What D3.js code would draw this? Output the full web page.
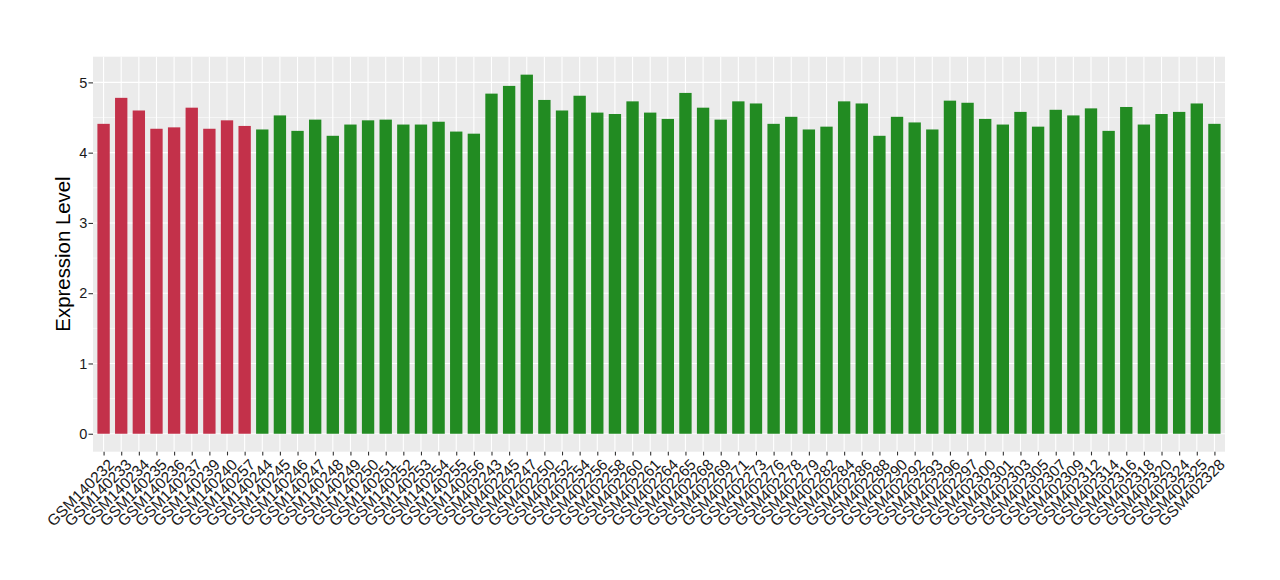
<!DOCTYPE html>
<html>
<head>
<meta charset="utf-8">
<script src="https://cdn.jsdelivr.net/npm/d3@7"></script>
<style>
  html, body { margin: 0; padding: 0; background: #ffffff; }
  svg { display: block; }
  text { font-family: "Liberation Sans", Arial, Helvetica, sans-serif; }
</style>
</head>
<body>
<svg id="chart" width="1280" height="580"></svg>
<script>
const samples = [
  "GSM140232","GSM140233","GSM140234","GSM140235","GSM140236","GSM140237","GSM140239","GSM140240","GSM140257",
  "GSM140244","GSM140245","GSM140246","GSM140247","GSM140248","GSM140249","GSM140250","GSM140251","GSM140252",
  "GSM140253","GSM140254","GSM140255","GSM140256",
  "GSM402243","GSM402245","GSM402247","GSM402250","GSM402252","GSM402254","GSM402256","GSM402258","GSM402260",
  "GSM402261","GSM402264","GSM402265","GSM402268","GSM402269","GSM402271","GSM402273","GSM402276","GSM402278",
  "GSM402279","GSM402282","GSM402284","GSM402286","GSM402288","GSM402290","GSM402292","GSM402293","GSM402296",
  "GSM402297","GSM402300","GSM402301","GSM402303","GSM402305","GSM402307","GSM402309","GSM402312","GSM402314",
  "GSM402316","GSM402318","GSM402320","GSM402324","GSM402325","GSM402328"
];
const expression = [
  4.41, 4.78, 4.60, 4.34, 4.36, 4.64, 4.34, 4.46, 4.38,
  4.33, 4.53, 4.31, 4.47, 4.24, 4.40, 4.46, 4.47, 4.40,
  4.40, 4.44, 4.30, 4.27,
  4.84, 4.95, 5.11, 4.75, 4.60, 4.81, 4.57, 4.55, 4.73,
  4.57, 4.48, 4.85, 4.64, 4.47, 4.73, 4.70, 4.41, 4.51,
  4.33, 4.37, 4.73, 4.70, 4.24, 4.51, 4.43, 4.33, 4.74,
  4.71, 4.48, 4.40, 4.58, 4.37, 4.61, 4.53, 4.63, 4.31,
  4.65, 4.40, 4.55, 4.58, 4.70, 4.41
];
const groups = [
  "A","A","A","A","A","A","A","A","A",
  "B","B","B","B","B","B","B","B","B","B","B","B","B",
  "B","B","B","B","B","B","B","B","B","B","B","B","B","B","B","B","B","B","B","B","B","B","B","B","B","B","B",
  "B","B","B","B","B","B","B","B","B","B","B","B","B","B","B"
];
const yTicks = [0, 1, 2, 3, 4, 5];
const groupColors = { A: "#C3314A", B: "#228B22" };

const data = samples.map((s, i) => ({ sample: s, value: expression[i], group: groups[i] }));

const svg = d3.select("#chart");
const pLeft = 93, pRight = 1225, pTop = 56.7, pBottom = 451.7;
const FONT = "'Liberation Sans', Arial, Helvetica, sans-serif";

const ymax = d3.max(expression);
const y = d3.scaleLinear().domain([-0.05 * ymax, 1.05 * ymax]).range([pBottom, pTop]);
const x = d3.scalePoint().domain(samples).range([pLeft, pRight]).padding(0.6);
const barW = x.step() * 0.7;

// panel
svg.append("rect").attr("x", pLeft).attr("y", pTop).attr("width", pRight - pLeft).attr("height", pBottom - pTop).attr("fill", "#EBEBEB");

// minor grid
const minor = d3.range(0.5, 5.5, 1);
svg.append("g").selectAll("line").data(minor).join("line")
  .attr("x1", pLeft).attr("x2", pRight)
  .attr("y1", d => y(d)).attr("y2", d => y(d))
  .attr("stroke", "#ffffff").attr("stroke-width", 0.55);

// major grid
svg.append("g").selectAll("line").data(yTicks).join("line")
  .attr("x1", pLeft).attr("x2", pRight)
  .attr("y1", d => y(d)).attr("y2", d => y(d))
  .attr("stroke", "#ffffff").attr("stroke-width", 1.1);
svg.append("g").selectAll("line").data(samples).join("line")
  .attr("x1", d => x(d)).attr("x2", d => x(d))
  .attr("y1", pTop).attr("y2", pBottom)
  .attr("stroke", "#ffffff").attr("stroke-width", 1.1);

// bars
svg.append("g").selectAll("rect").data(data).join("rect")
  .attr("x", d => x(d.sample) - barW / 2)
  .attr("width", barW)
  .attr("y", d => y(d.value))
  .attr("height", d => y(0) - y(d.value))
  .attr("fill", d => groupColors[d.group]);

// y axis
const yAxis = d3.axisLeft(y).tickValues(yTicks).tickSize(4.5).tickPadding(1.2).tickFormat(d3.format("d"));
const gy = svg.append("g").attr("transform", `translate(${pLeft},0)`).call(yAxis);
gy.select(".domain").remove();
gy.selectAll(".tick line").attr("stroke", "#333333").attr("stroke-width", 1.1);
gy.selectAll(".tick text").attr("font-size", 14.5).attr("fill", "#1a1a1a").attr("font-family", FONT);

// x axis
const xAxis = d3.axisBottom(x).tickSize(3.7).tickFormat(d => d);
const gx = svg.append("g").attr("transform", `translate(0,${pBottom})`).call(xAxis);
gx.select(".domain").remove();
gx.selectAll(".tick line").attr("stroke", "#333333").attr("stroke-width", 1.1);
gx.selectAll(".tick text")
  .attr("font-size", 15.5).attr("fill", "#1a1a1a")
  .attr("font-family", FONT)
  .attr("text-anchor", "end")
  .attr("dy", null).attr("y", null)
  .attr("transform", "translate(3,6) rotate(-45)")
  .attr("dominant-baseline", "hanging");

// y title
svg.append("text")
  .attr("transform", `translate(70,254) rotate(-90)`)
  .attr("text-anchor", "middle")
  .attr("font-size", 20.4)
  .attr("font-family", FONT)
  .attr("fill", "#000000")
  .text("Expression Level");
</script>
</body>
</html>
